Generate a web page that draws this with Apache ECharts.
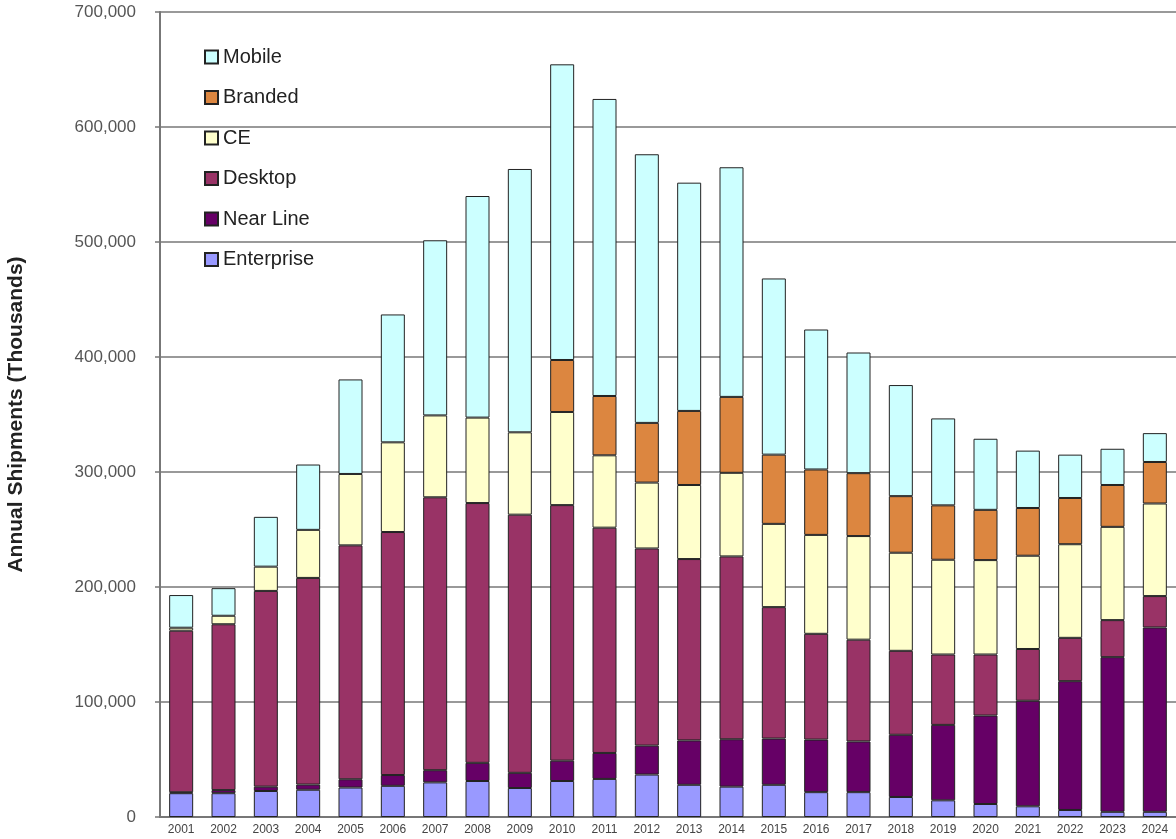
<!DOCTYPE html>
<html>
<head>
<meta charset="utf-8">
<script src="https://cdn.jsdelivr.net/npm/echarts@6/dist/echarts.min.js"></script>
<style>
html,body{margin:0;padding:0;background:#fff;}
#chart{width:1176px;height:839px;}
</style>
</head>
<body>
<div id="chart"></div>
<script>
var years = ['2001','2002','2003','2004','2005','2006','2007','2008','2009','2010','2011','2012','2013','2014','2015','2016','2017','2018','2019','2020','2021','2022','2023','2024'];
var enterprise = [20700,20700,22600,23700,25600,27100,30100,31300,25200,31300,33100,36900,28000,26400,28000,21600,21600,17400,14500,11300,9300,6100,4500,4500];
var nearLine = [800,2700,3800,4500,7200,9400,10600,15800,13200,17700,22600,25200,38600,41200,40200,45700,44100,54100,65600,76900,91800,112000,134500,160300];
var desktop = [140500,144200,170200,179700,203400,211300,237300,225900,224500,222200,195900,171400,157700,159000,114300,92000,88500,73000,61200,53100,45000,37700,32200,27300];
var ce = [2600,7400,21100,41800,62100,78000,71200,74300,71600,81000,62900,57300,64400,72700,72400,86000,90100,85300,82400,82100,81100,81400,81100,80500];
var branded = [null,null,null,null,null,null,null,null,null,45200,51600,51900,64400,66000,60200,56900,54700,49200,47300,43700,41500,40200,36400,36100];
var mobile = [28400,24000,43300,56800,82200,111200,152300,192700,229000,257100,258300,233600,198500,199700,153200,121700,104900,96600,75600,61800,49900,37700,31500,25100];
var yTicks = [0,100000,200000,300000,400000,500000,600000,700000];
var legendOrder = ['Mobile','Branded','CE','Desktop','Near Line','Enterprise'];

var seriesDefs = [
  {name:'Enterprise', data:enterprise, color:'#9999FF'},
  {name:'Near Line', data:nearLine, color:'#660066'},
  {name:'Desktop', data:desktop, color:'#993366'},
  {name:'CE', data:ce, color:'#FFFFCC'},
  {name:'Branded', data:branded, color:'#DC8640'},
  {name:'Mobile', data:mobile, color:'#CCFFFF'}
];

var chart = echarts.init(document.getElementById('chart'), null, {renderer:'canvas'});
var FONT = '"Liberation Sans", Arial, sans-serif';
chart.setOption({
  animation:false,
  backgroundColor:'#ffffff',
  grid:{left:160, right:0, top:12, bottom:22, containLabel:false, outerBoundsMode:'none'},
  legend:{
    data:legendOrder,
    orient:'vertical',
    left:199, top:42,
    itemWidth:13, itemHeight:13, itemGap:20.5,
    icon:'rect',
    textStyle:{fontFamily:FONT, fontSize:20, lineHeight:20, color:'#222'}
  },
  xAxis:{
    type:'category',
    data:years,
    boundaryGap:true,
    axisLine:{show:true, lineStyle:{color:'#777', width:2}},
    axisTick:{show:false},
    axisLabel:{fontFamily:FONT, fontSize:12, color:'#444', margin:7, interval:0}
  },
  yAxis:{
    type:'value',
    min:0, max:700000, interval:100000,
    name:'Annual Shipments (Thousands)',
    nameLocation:'middle',
    nameGap:133,
    nameTextStyle:{fontFamily:FONT, fontSize:21, fontWeight:'bold', color:'#222'},
    axisLine:{show:true, lineStyle:{color:'#777', width:2}},
    axisTick:{show:true, length:5, lineStyle:{color:'#777', width:1.5}},
    axisLabel:{fontFamily:FONT, fontSize:17, color:'#555', margin:24,
      formatter:function(v){return yTicks.indexOf(v)>=0 ? v.toLocaleString('en-US') : '';}},
    splitLine:{show:true, lineStyle:{color:'#777', width:1.5}}
  },
  series:seriesDefs.map(function(s){
    return {
      name:s.name, type:'bar', stack:'total', data:s.data,
      barWidth:24,
      itemStyle:{color:s.color, borderColor:'#222', borderWidth:1}
    };
  })
});
</script>
</body>
</html>
